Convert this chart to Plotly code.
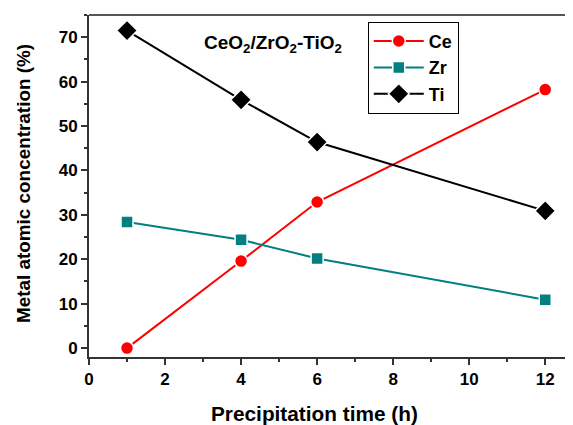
import plotly.graph_objects as go

time_h = [1, 4, 6, 12]
ce = [0.0, 19.6, 32.9, 58.2]
zr = [28.4, 24.4, 20.2, 10.9]
ti = [71.5, 55.9, 46.4, 30.9]

FONT = "Liberation Sans, Arial, sans-serif"

fig = go.Figure()
fig.add_trace(go.Scatter(x=time_h, y=ce, name="<b>Ce</b>", mode="lines+markers",
                         line=dict(color="#ff0000", width=2),
                         marker=dict(symbol="circle", size=13, color="#ff0000",
                                     line=dict(color="white", width=1.5))))
fig.add_trace(go.Scatter(x=time_h, y=zr, name="<b>Zr</b>", mode="lines+markers",
                         line=dict(color="#008080", width=2),
                         marker=dict(symbol="square", size=12, color="#008080",
                                     line=dict(color="white", width=1.5))))
fig.add_trace(go.Scatter(x=time_h, y=ti, name="<b>Ti</b>", mode="lines+markers",
                         line=dict(color="#000000", width=2),
                         marker=dict(symbol="diamond", size=16, color="#000000",
                                     line=dict(color="white", width=1.5))))

axis_common = dict(showgrid=False, zeroline=False, showline=True, linecolor="#333",
                   linewidth=2, ticks="outside", ticklen=6, tickwidth=1.5, tickcolor="#333",
                   automargin=False,
                   tickfont=dict(family=FONT, size=17, color="black", weight="bold"))

fig.update_xaxes(range=[0, 12.73], tick0=0, dtick=2,
                 minor=dict(ticks="outside", ticklen=3, dtick=1, tickcolor="#333", tickwidth=1.5),
                 **axis_common)
fig.update_yaxes(range=[-2, 75], tick0=0, dtick=10,
                 minor=dict(ticks="outside", ticklen=3, dtick=5, tickcolor="#333", tickwidth=1.5),
                 **axis_common)

fig.add_shape(type="line", xref="paper", yref="paper", x0=0, x1=1, y0=1, y1=1,
              line=dict(color="#555", width=2))

fig.add_annotation(text="<b>Precipitation time (h)</b>", xref="paper", yref="paper",
                   x=0.465, y=-0.164, showarrow=False, xanchor="center", yanchor="middle",
                   font=dict(family=FONT, size=20.8, color="black"))
fig.add_annotation(text="<b>Metal atomic concentration (%)</b>", xref="paper", yref="paper",
                   x=-0.134, y=0.506, showarrow=False, xanchor="center", yanchor="middle",
                   textangle=-90, font=dict(family=FONT, size=18.9, color="black"))

fig.add_annotation(text="<b>CeO<sub>2</sub>/ZrO<sub>2</sub>-TiO<sub>2</sub></b>",
                   xref="paper", yref="paper", x=0.38, y=0.915, showarrow=False,
                   xanchor="center", yanchor="middle",
                   font=dict(family=FONT, size=19, color="black"))

# page body has an 8px default margin; size the figure so the plot lands where the reference has it
fig.update_layout(
    width=565, height=417,
    margin=dict(l=81, r=0, t=7, b=68),
    plot_bgcolor="white", paper_bgcolor="white",
    legend=dict(x=0.576, y=0.98, xanchor="left", yanchor="top",
                bordercolor="black", borderwidth=1, bgcolor="white",
                font=dict(family=FONT, size=18, color="black"),
                itemwidth=50, tracegroupgap=0),
    font=dict(family=FONT),
)

fig.write_html("out.html")
